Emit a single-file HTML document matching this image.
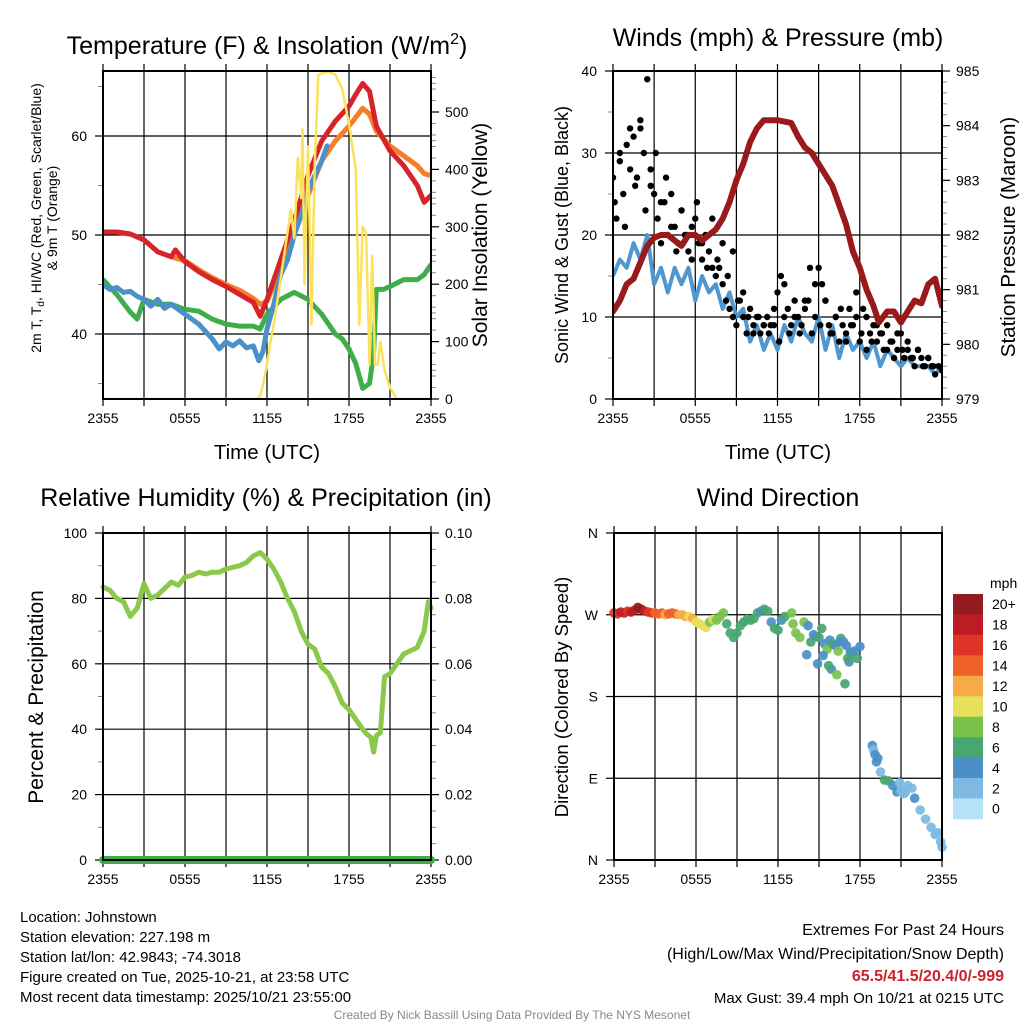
<!DOCTYPE html>
<html><head><meta charset="utf-8"><style>
html,body{margin:0;padding:0;background:#fff;}
body{width:1024px;height:1024px;overflow:hidden;font-family:"Liberation Sans",sans-serif;}
svg text{font-family:"Liberation Sans",sans-serif;fill:#000;}
</style></head><body>
<svg id="c" width="1024" height="1024" viewBox="0 0 1024 1024" xmlns="http://www.w3.org/2000/svg"></svg>
<script>
// ---------- DATA ----------
const tempT=[0,1,2,3,4,5,5.3,6,7,8,9,10,11,11.5,12,13,14,15,16,17,18,18.5,19,19.5,20,21,22,23,23.5,24];
const tempRed=[50.3,50.3,50.1,49.5,48.3,47.8,48.5,47.3,46.3,45.5,44.8,44,43.2,41.8,43.5,47.5,51.5,56,59.5,61.5,63,64.2,65.3,64.5,61,58.5,57,55,53.3,54];
const orangeT=[0,1,2,3,4,5,6,7,8,9,10,11,11.5,12,13,14,15,16,17,18,19,19.5,20,21,22,23,23.5,24];
const tempOrange=[50.3,50.3,50.1,49.5,48.3,47.8,47.4,46.5,45.7,45,44.4,43.6,43,43.3,46.5,50.5,54,57.5,59.5,61,62.8,62.2,60.5,59,58,57,56.2,56];
const wcT=[0,0.5,1,1.5,2,2.5,3,3.5,4,4.5,5,6,7,8,8.5,9,9.5,10,10.5,11,11.4,11.7,12,12.5,13,13.5,14,14.5,15,15.5,16,16.4];
const wcBlue=[45,44.5,44.7,44.2,44.3,43.8,43.5,42.8,43.5,42.6,43,42,41,39.5,38.5,39.2,38.8,39.3,38.6,38.8,37.3,38.2,40.5,43,46,47.5,50,52,54.5,56,57.5,59];
const tdT=[0,1,2,2.5,3,4,5,6,7,8,9,10,11,11.5,12,13,14,15,16,17,17.5,18,18.5,19,19.5,19.8,20,20.5,21,22,23,23.5,24];
const tdGreen=[45.5,44,42.2,41.5,43.5,43,43,42.5,42.3,41.5,41,40.8,40.8,40.5,42,43.5,44.2,43.5,42,40,39.5,38.5,37,34.5,35,38,44.5,44.5,44.8,45.5,45.5,46,47];
const solarT=[0,11.25,11.5,11.75,12,12.25,12.5,12.75,13,13.25,13.5,13.75,14,14.25,14.5,14.6,14.75,15,15.25,15.5,15.75,16,16.5,17,17.5,18,18.5,18.75,19,19.25,19.5,19.7,19.9,20.1,20.3,20.6,21,21.5,24];
const solarV=[0,0,5,30,60,100,130,170,210,250,290,330,280,420,350,470,200,440,130,410,565,567,570,565,540,480,400,130,300,290,60,250,60,60,100,50,20,0,0];
const presT=[0,0.5,1,1.5,2,2.5,3,3.5,4,4.5,5,5.5,6,6.5,7,7.5,8,8.5,9,9.5,10,10.5,11,12,13,13.5,14,14.5,15,16,17,17.5,18,18.5,19,19.4,20,20.5,21,21.5,22,22.5,23,23.5,24];
const presV=[980.6,980.8,981.1,981.2,981.5,981.8,981.95,982.0,982.0,981.9,981.8,982.0,982.0,981.9,982.0,982.1,982.3,982.6,983.0,983.3,983.7,983.95,984.1,984.1,984.05,983.8,983.6,983.5,983.3,982.9,982.2,981.7,981.4,981.0,980.7,980.4,980.6,980.6,980.4,980.6,980.8,980.75,981.1,981.2,980.7];
const windV=[15,17,16,19,17,20,14,16,13,16,14,16,12,15,13,14,11,13,10,11,7,9,6,8,6,9,7,10,8,7,10,6,9,5,8,6,7,5,7,4,6,5,4,5,4,4,4,3,4];
const gustV=[27,22,30,25,31,28,32,27,33,30,39,26,25,22,19,24,20,25,21,19,23,20,18,21,22,19,17,20,18,16,15,16,14,12,11,10,9,12,10,8,11,9,10,8,9,10,9,11,13,15,14,11,9,12,10,9,11,12,8,10,16,14,12,9,8,10,7,9,8,11,9,10,7,11,6,8,9,7,8,6,9,7,5,6,8,5,6,5,4,6,5,4,5,4,3,4,3.5];
const gustV2=[24,29,21,33,26,34,23,28,30,24,27,21,18,23,20,17,24,19,16,22,17,19,15,18,12,13,10,8,10,9,8,9,7,10,8,10,8,12,16,14,9,12,8,10,11,7,9,13,8,10,7,9,8,6,7,8,6,7,5,6,4,5,4];
const rhT=[0,0.5,1,1.5,2,2.5,3,3.5,4,4.5,5,5.5,6,6.5,7,7.5,8,8.5,9,9.5,10,10.5,11,11.5,12,12.5,13,13.5,14,14.5,15,15.5,16,16.5,17,17.5,18,18.5,19,19.3,19.6,19.8,20,20.3,20.6,21,21.5,22,22.5,23,23.5,23.8,24];
const rhV=[83.5,82.5,80,79,74.5,77,84.5,80,81,83,85,84,86.5,87,88,87.5,88,88,89,89.5,90,91,93,94,92,89,85,80,76,70,66,64.5,59,57,53,48,46,43,40,38.5,37.5,33,38,39,56,57,60,63,64,65,70,79,77];
const precipV=[0,0];
const dirT=[0,0.25,0.5,0.75,1,1.25,1.5,1.75,2,2.25,2.5,2.75,3,3.25,3.5,3.75,4,4.25,4.5,4.75,5,5.25,5.5,5.75,6,6.25,6.5,6.75,7,7.25,7.5,7.75,8,8.25,8.5,8.75,9,9.25,9.5,9.75,10,10.25,10.5,10.75,11,11.25,11.5,11.75,12,12.25,12.5,13,13.1,13.3,13.6,13.9,14.2,14.4,14.6,14.8,15,15.2,15.4,15.6,15.8,16,16.2,16.4,16.6,16.8,17,17.2,17.4,17.6,17.8,18,14.1,14.9,15.3,15.9,16.3,16.9,17.3,17.1,16.5,15.7,18.9,19.0,19.1,19.2,19.3,19.5,19.8,20.1,20.4,20.7,21.0,21.2,21.5,21.8,22.0,21.3,20.9,22.4,22.8,23.2,23.5,23.7,23.9,24];
const dirV=[272,271,273,272,274,273,275,278,276,274,273,272,272,271,272,270,271,272,271,270,270,268,268,266,262,260,258,256,262,265,264,268,272,260,250,245,250,258,262,265,264,266,272,274,276,274,262,255,253,264,268,272,260,250,245,262,258,240,248,246,245,255,238,232,242,238,236,230,244,240,236,218,228,230,222,235,226,216,225,210,204,194,229,222,240,214,126,121,116,108,112,97,88,87,82,75,76,73,82,79,68,74,85,55,45,36,28,30,20,14,36,30];
const dirS=[16,17,19,18,17,18,19,21,20,18,17,16,15,14,15,13,14,15,14,13,12,12,11,12,10,11,10,11,9,10,8,8,9,7,6,6,7,6,6,6,7,7,6,5,6,7,5,6,7,4,6,8,8,9,9,9,5,6,5,4,7,7,5,9,5,7,4,9,6,5,4,4,7,5,6,4,5,5,4,5,9,6,4,6,4,6,5,2,5,5,5,3,6,6,4,4,3,3,2,3,4,3,3,2,2,3,3,2,2,2,1,2];
const speedLabels=["20+","18","16","14","12","10","8","6","4","2","0"];
const speedColors=["#931a1d","#bd1c24","#dd3427","#ef6229","#f7ab47","#e7e05a","#7bc24a","#48a66f","#4a8fc6","#7db9e3","#b5e2f7"];
const xTickLabels=["2355","0555","1155","1755","2355"];

// ---------- HELPERS ----------
const NS="http://www.w3.org/2000/svg";
const svg=document.getElementById('c');
function mk(tag,attrs,parent){const e=document.createElementNS(NS,tag);for(const k in attrs)e.setAttribute(k,attrs[k]);(parent||svg).appendChild(e);return e;}
function txt(s,x,y,size,anchor,extra,parent){const e=mk('text',Object.assign({x:x,y:y,'font-size':size,'text-anchor':anchor||'middle'},extra||{}),parent);e.textContent=s;return e;}
function lin(d0,d1,p0,p1){return v=>p0+(v-d0)/(d1-d0)*(p1-p0);}
function pathFrom(ts,vs,fx,fy){return ts.map((t,i)=>(i?'L':'M')+fx(t).toFixed(1)+','+fy(vs[i]).toFixed(1)).join('');}

function panel(name,x0,x1,y0,y1,leftTicks,fyL,leftMinor,rightTicks,fyR,rightMinor,hGrid){
  const g=mk('g',{});
  
  
  const fx=lin(0,24,x0,x1);
  for(let h=3;h<24;h+=3){const l=mk('line',{x1:fx(h),x2:fx(h),y1:y0,y2:y1,stroke:'#000','stroke-width':1.2},g);}
  hGrid.forEach(v=>{const l=mk('line',{x1:x0,x2:x1,y1:fyL(v),y2:fyL(v),stroke:'#000','stroke-width':1.2},g);});
  for(let h=0;h<=24;h+=3){mk('line',{x1:fx(h),x2:fx(h),y1:y1,y2:y1+7,stroke:'#000','stroke-width':1.2},g);mk('line',{x1:fx(h),x2:fx(h),y1:y0,y2:y0-7,stroke:'#000','stroke-width':1.2},g);}
  xTickLabels.forEach((s,i)=>{const t=txt(s,fx(i*6),y1+24,14,'middle',{},g);});
  leftTicks.forEach(tk=>{mk('line',{x1:x0-8,x2:x0,y1:fyL(tk.v),y2:fyL(tk.v),stroke:'#000','stroke-width':1.2},g);const t=txt(tk.s,x0-16,fyL(tk.v)+5,14,'end',{},g);});
  leftMinor.forEach(v=>mk('line',{x1:x0-5,x2:x0,y1:fyL(v),y2:fyL(v),stroke:'#888','stroke-width':1},g));
  rightTicks.forEach(tk=>{mk('line',{x1:x1,x2:x1+8,y1:fyR(tk.v),y2:fyR(tk.v),stroke:'#000','stroke-width':1.2},g);if(tk.s!==''){const t=txt(tk.s,x1+14,fyR(tk.v)+5,14,'start',{},g);}});
  rightMinor.forEach(v=>mk('line',{x1:x1,x2:x1+5,y1:fyR(v),y2:fyR(v),stroke:'#888','stroke-width':1},g));
  return {g,fx};
}
function frame(x0,x1,y0,y1,name){const r=mk('rect',{x:x0,y:y0,width:x1-x0,height:y1-y0,fill:'none',stroke:'#000','stroke-width':2});}
function range(a,b,s){const o=[];for(let v=a;v<=b+1e-9;v+=s)o.push(+v.toFixed(4));return o;}

// ---------- PANEL 1: Temperature ----------
{
 const x0=103,x1=431,y0=71,y1=399;
 const fyL=lin(40,60,334,136), fyR=lin(0,500,399,112);
 const p=panel('temperature-panel',x0,x1,y0,y1,[{v:40,s:'40'},{v:50,s:'50'},{v:60,s:'60'}],fyL,range(35,65,5).filter(v=>v%10),
   range(0,500,100).map(v=>({v:v,s:String(v)})),fyR,range(50,550,50).filter(v=>v%100).concat(range(20,560,20).filter(v=>v%50)),[40,50,60]);
 const fx=p.fx;
 const clip=mk('clipPath',{id:'cp1'});mk('rect',{x:x0,y:y0,width:x1-x0,height:y1-y0},clip);
 const gg=mk('g',{'clip-path':'url(#cp1)'});
 let e;
 e=mk('path',{d:pathFrom(tdT,tdGreen,fx,fyL),fill:'none',stroke:'#3fae49','stroke-width':5,'stroke-linejoin':'round','stroke-linecap':'round'},gg);
 e=mk('path',{d:pathFrom(orangeT,tempOrange,fx,fyL),fill:'none',stroke:'#f47e2a','stroke-width':5,'stroke-linejoin':'round','stroke-linecap':'round'},gg);
 e=mk('path',{d:pathFrom(tempT,tempRed,fx,fyL),fill:'none',stroke:'#d7242a','stroke-width':5,'stroke-linejoin':'round','stroke-linecap':'round'},gg);
 e=mk('path',{d:pathFrom(wcT,wcBlue,fx,fyL),fill:'none',stroke:'#4a90c9','stroke-width':5,'stroke-linejoin':'round','stroke-linecap':'round'},gg);
 e=mk('path',{d:pathFrom(solarT,solarV,fx,fyR),fill:'none',stroke:'#fbe25a','stroke-width':2.5,'stroke-linejoin':'round'},gg);
 frame(x0,x1,y0,y1,'temperature-frame');
 e=txt('',267,54,25);
 e.innerHTML='Temperature (F) &amp; Insolation (W/m<tspan dy="-10" font-size="16">2</tspan><tspan dy="10">)</tspan>';
 e=txt('Time (UTC)',267,459,20.5);
 e=txt('',0,0,14,'middle',{transform:'translate(41,218) rotate(-90)'});
 e.innerHTML='2m T, T<tspan dy="3" font-size="10">d</tspan><tspan dy="-3">, HI/WC (Red, Green, Scarlet/Blue)</tspan>';
 e=txt('& 9m T (Orange)',0,0,14,'middle',{transform:'translate(57,218) rotate(-90)'});
 e=txt('Solar Insolation (Yellow)',0,0,21,'middle',{transform:'translate(487,235) rotate(-90)'});
}
// ---------- PANEL 2: Winds ----------
{
 const x0=613,x1=942,y0=71,y1=399;
 const fyL=lin(0,40,399,71), fyR=lin(979,985,399,71);
 const p=panel('winds-panel',x0,x1,y0,y1,range(0,40,10).map(v=>({v:v,s:String(v)})),fyL,[5,15,25,35],
   range(979,985,1).map(v=>({v:v,s:String(v)})),fyR,range(979.2,984.8,0.2).filter(v=>Math.abs(v-Math.round(v))>0.01),[10,20,30]);
 const fx=p.fx;
 const clip=mk('clipPath',{id:'cp2'});mk('rect',{x:x0,y:y0,width:x1-x0,height:y1-y0},clip);
 const gg=mk('g',{'clip-path':'url(#cp2)'});
 let e;
 const wT=windV.map((v,i)=>i*0.5);
 e=mk('path',{d:pathFrom(wT,windV,fx,fyL),fill:'none',stroke:'#4f97d0','stroke-width':4,'stroke-linejoin':'round'},gg);
 gustV.forEach((v,i)=>{const c=mk('circle',{cx:fx(i*0.25),cy:fyL(v),r:3.2,fill:'#000'},gg);});
 gustV2.forEach((v,i)=>{const c=mk('circle',{cx:fx(i*0.375+0.12),cy:fyL(v),r:3.2,fill:'#000'},gg);});
 e=mk('path',{d:pathFrom(presT,presV,fx,fyR),fill:'none',stroke:'#9a1a1c','stroke-width':6,'stroke-linejoin':'round','stroke-linecap':'round'},gg);
 frame(x0,x1,y0,y1,'winds-frame');
 e=txt('Winds (mph) & Pressure (mb)',778,46,25);
 e=txt('Time (UTC)',778,459,20.5);
 e=txt('Sonic Wind & Gust (Blue, Black)',0,0,18,'middle',{transform:'translate(568,235) rotate(-90)'});
 e=txt('Station Pressure (Maroon)',0,0,20.5,'middle',{transform:'translate(1015,237) rotate(-90)'});
}
// ---------- PANEL 3: RH ----------
{
 const x0=103,x1=431,y0=533,y1=860;
 const fyL=lin(0,100,860,533), fyR=lin(0,0.1,860,533);
 const p=panel('humidity-panel',x0,x1,y0,y1,range(0,100,20).map(v=>({v:v,s:String(v)})),fyL,[10,30,50,70,90],
   range(0,0.1,0.02).map(v=>({v:v,s:v.toFixed(2)})),fyR,range(0.005,0.095,0.005).filter(v=>Math.abs(v*50-Math.round(v*50))>0.01),[20,40,60,80]);
 const fx=p.fx;
 let e;
 e=mk('path',{d:pathFrom(rhT,rhV,fx,fyL),fill:'none',stroke:'#8cc84b','stroke-width':5,'stroke-linejoin':'round','stroke-linecap':'round'});
 e=mk('path',{d:pathFrom([0,24],precipV,fx,fyR),fill:'none',stroke:'#3fae49','stroke-width':8,'stroke-linecap':'round'});
 frame(x0,x1,y0,y1,'humidity-frame');
 e=txt('Relative Humidity (%) & Precipitation (in)',266,506,25);
 e=txt('Percent & Precipitation',0,0,21,'middle',{transform:'translate(43,697) rotate(-90)'});
}
// ---------- PANEL 4: Wind direction ----------
{
 const x0=614,x1=942,y0=533,y1=860;
 const fyL=lin(0,360,860,533);
 const p=panel('direction-panel',x0,x1,y0,y1,[{v:0,s:'N'},{v:90,s:'E'},{v:180,s:'S'},{v:270,s:'W'},{v:360,s:'N'}],fyL,[],[],fyL,[],[90,180,270]);
 const fx=p.fx;
 const clip=mk('clipPath',{id:'cp4'});mk('rect',{x:x0-5,y:y0,width:x1-x0+10,height:y1-y0},clip);
 const gg=mk('g',{'clip-path':'url(#cp4)'});
 function col(s){let k=Math.floor(s/2);if(k>10)k=10;return speedColors[10-k];}
 dirT.forEach((t,i)=>{const c=mk('circle',{cx:fx(t),cy:fyL(dirV[i]),r:4.8,fill:col(dirS[i]),'fill-opacity':0.92},gg);});
 frame(x0,x1,y0,y1,'direction-frame');
 let e=txt('Wind Direction',778,506,25);
 e=txt('Direction (Colored By Speed)',0,0,18.5,'middle',{transform:'translate(568,697) rotate(-90)'});
 const lg=mk('g',{});
 const bh=20.45;
 speedColors.forEach((c,i)=>{const r=mk('rect',{x:953,y:594+i*bh,width:30,height:bh+0.3,fill:c},lg);});
 speedLabels.forEach((s,i)=>{const t=txt(s,992,594+i*bh+bh/2+5,14,'start',{},lg);});
 e=txt('mph',990,588,14,'start',{},lg);
}
// ---------- FOOTER ----------
{
 const lines=["Location: Johnstown","Station elevation: 227.198 m","Station lat/lon: 42.9843; -74.3018","Figure created on Tue, 2025-10-21, at 23:58 UTC","Most recent data timestamp: 2025/10/21 23:55:00"];
 lines.forEach((s,i)=>{const t=txt(s,20,922+i*20,15,'start');});
 let e;
 e=txt('Extremes For Past 24 Hours',1004,935,16,'end');
 e=txt('(High/Low/Max Wind/Precipitation/Snow Depth)',1004,959,16,'end');
 e=txt('65.5/41.5/20.4/0/-999',1004,981,16,'end',{'font-weight':'bold',fill:'#c8242b',style:'fill:#c8242b'});
 e=txt('Max Gust: 39.4 mph On 10/21 at 0215 UTC',1004,1003,15,'end');
 e=txt('Created By Nick Bassill Using Data Provided By The NYS Mesonet',512,1019,12,'middle',{style:'fill:#888'});
}
</script>
</body></html>
